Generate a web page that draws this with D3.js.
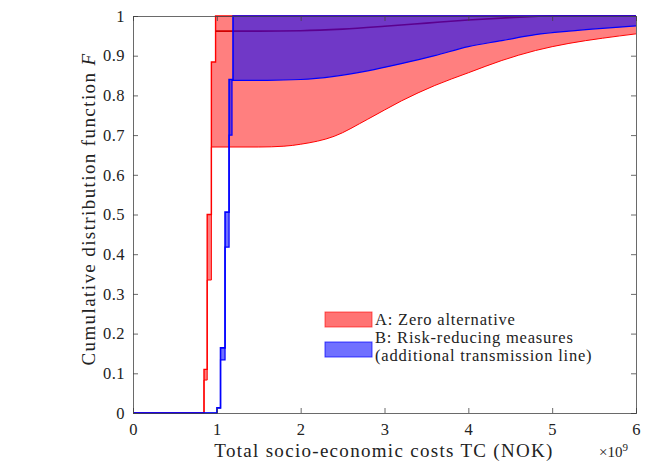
<!DOCTYPE html>
<html>
<head>
<meta charset="utf-8">
<script src="https://cdn.jsdelivr.net/npm/d3@7"></script>
<style>
  body { margin: 0; background: #fff; }
  svg text { font-family: "Liberation Serif", "DejaVu Serif", serif; fill: #222; }
</style>
</head>
<body>
<svg id="chart" width="646" height="464"></svg>
<script>
// Axis ticks
const xTicks = [0, 1, 2, 3, 4, 5, 6];
const yTicks = [0, 0.1, 0.2, 0.3, 0.4, 0.5, 0.6, 0.7, 0.8, 0.9, 1];
const yTickLabels = ["0", "0.1", "0.2", "0.3", "0.4", "0.5", "0.6", "0.7", "0.8", "0.9", "1"];

// A: Zero alternative (costs in 1e9 NOK), upper CDF bound, steps
const aUpperX = [0, 0.847, 0.885, 0.935, 0.985, 6];
const aUpperF = [0, 0.110, 0.500, 0.884, 1.000, 1.000];
// A lower CDF bound: steps, then smooth tail
const aLowerX = [0, 0.847, 0.885, 0.935];
const aLowerF = [0, 0.083, 0.335, 0.670];
const aTailX = [0.935, 1.5, 1.8, 2.0, 2.4, 2.8, 3.2, 3.6, 4.0, 4.4, 4.8, 5.2, 5.6, 6.0];
const aTailF = [0.670, 0.670, 0.672, 0.677, 0.697, 0.740, 0.786, 0.825, 0.857, 0.888, 0.913, 0.931, 0.944, 0.955];
// A inner curve
const aMidX = [0.985, 1.5, 2.0, 2.5, 3.0, 3.5, 4.0, 4.5, 5.0, 6.0];
const aMidF = [0.962, 0.962, 0.963, 0.967, 0.974, 0.982, 0.990, 0.996, 1.000, 1.000];

// B: Risk-reducing measures, upper CDF bound
const bUpperX = [0, 1.002, 1.044, 1.098, 1.146, 1.193, 6];
const bUpperF = [0, 0.013, 0.164, 0.506, 0.840, 1.000, 1.000];
// B lower CDF bound
const bLowerX = [0, 1.002, 1.044, 1.098, 1.146, 1.181];
const bLowerF = [0, 0.013, 0.134, 0.418, 0.700, 0.838];
const bTailX = [1.181, 1.6, 2.0, 2.4, 2.8, 3.2, 3.6, 4.0, 4.4, 4.8, 5.2, 5.6, 6.0];
const bTailF = [0.838, 0.838, 0.840, 0.848, 0.862, 0.880, 0.900, 0.923, 0.938, 0.953, 0.962, 0.969, 0.975];

const legendLabels = ["A: Zero alternative", "B: Risk-reducing measures", "(additional transmission line)"];

const serif = "'Liberation Serif', 'DejaVu Serif', serif";
const svg = d3.select("#chart");
const x = d3.scaleLinear().domain([0, 6]).range([133, 636]);
const y = d3.scaleLinear().domain([0, 1]).range([413, 16]);

const red = "#ff0000", blue = "#0000ff";

// step function -> vertex list
function stepPts(xs, fs) {
  const pts = [];
  xs.forEach((v, i) => {
    if (i > 0) pts.push([v, fs[i - 1]]);
    pts.push([v, fs[i]]);
  });
  return pts;
}
const lin = d3.line().x(d => x(d[0])).y(d => y(d[1]));
const smooth = d3.line().x(d => x(d[0])).y(d => y(d[1])).curve(d3.curveMonotoneX);
const zip = (xs, fs) => xs.map((v, i) => [v, fs[i]]);

function lowerPath(xs, fs, tx, tf) {
  return lin(stepPts(xs, fs)) + smooth(zip(tx, tf)).replace(/^M/, "L");
}
function bandPath(lx, lf, tx, tf, ux, uf) {
  const up = stepPts(ux, uf).reverse();
  return lowerPath(lx, lf, tx, tf) + lin(up).replace(/^M/, "L") + "Z";
}

// A
svg.append("path")
  .attr("d", bandPath(aLowerX, aLowerF, aTailX, aTailF, aUpperX, aUpperF))
  .attr("fill", red).attr("fill-opacity", 0.5).attr("stroke", "none");
svg.append("path").attr("d", lin(stepPts(aUpperX, aUpperF)))
  .attr("fill", "none").attr("stroke", red).attr("stroke-width", 1.4);
svg.append("path").attr("d", lowerPath(aLowerX, aLowerF, aTailX, aTailF))
  .attr("fill", "none").attr("stroke", red).attr("stroke-width", 1);
svg.append("path").attr("d", smooth(zip(aMidX, aMidF)))
  .attr("fill", "none").attr("stroke", "#d00000").attr("stroke-width", 1.6);

// B
svg.append("path")
  .attr("d", bandPath(bLowerX, bLowerF, bTailX, bTailF, bUpperX, bUpperF))
  .attr("fill", blue).attr("fill-opacity", 0.56).attr("stroke", "none");
svg.append("path").attr("d", lin(stepPts(bUpperX, bUpperF)))
  .attr("fill", "none").attr("stroke", blue).attr("stroke-width", 1.6);
svg.append("path").attr("d", lowerPath(bLowerX, bLowerF, bTailX, bTailF))
  .attr("fill", "none").attr("stroke", blue).attr("stroke-width", 1.2);

// axes (ticks inside)
svg.append("g").attr("transform", "translate(0,413)")
  .call(d3.axisBottom(x).tickValues(xTicks).tickSize(-5).tickPadding(10).tickFormat(d3.format("d")));
svg.append("g").attr("transform", "translate(133,0)")
  .call(d3.axisLeft(y).tickValues(yTicks).tickSize(-5).tickPadding(8).tickFormat((d, i) => yTickLabels[i]));
svg.append("g").attr("transform", "translate(0,16)")
  .call(d3.axisTop(x).tickValues(xTicks).tickSize(-5).tickFormat(""));
svg.append("g").attr("transform", "translate(636,0)")
  .call(d3.axisRight(y).tickValues(yTicks).tickSize(-5).tickFormat(""));
svg.selectAll("g").attr("font-family", serif);
svg.selectAll(".domain").attr("stroke", "#444").attr("stroke-width", 0.8);
svg.selectAll(".tick line").attr("stroke", "#444").attr("stroke-width", 0.8);
svg.selectAll(".tick text").attr("font-family", serif).attr("font-size", 16.5)
  .attr("letter-spacing", 0.5).attr("fill", "#222");

// axis labels
svg.append("text").attr("x", 384).attr("y", 457).attr("text-anchor", "middle")
  .attr("font-family", serif).attr("font-size", 19).attr("letter-spacing", 1.3)
  .text("Total socio-economic costs TC (NOK)");
const yl = svg.append("text").attr("transform", "translate(95,209) rotate(-90)")
  .attr("text-anchor", "middle").attr("font-family", serif).attr("font-size", 19)
  .attr("letter-spacing", 1.4);
yl.append("tspan").text("Cumulative distribution function ");
yl.append("tspan").attr("font-style", "italic").text("F");
const ex = svg.append("text").attr("x", 599).attr("y", 457).attr("font-family", serif).attr("font-size", 15);
ex.append("tspan").text("\u00d710");
ex.append("tspan").attr("dy", -6).attr("font-size", 11).text("9");

// legend
const lg = svg.append("g");
lg.append("rect").attr("x", 325).attr("y", 312).attr("width", 47).attr("height", 15)
  .attr("fill", red).attr("fill-opacity", 0.55).attr("stroke", red).attr("stroke-opacity", 0.6);
lg.append("rect").attr("x", 325).attr("y", 342).attr("width", 47).attr("height", 15)
  .attr("fill", blue).attr("fill-opacity", 0.56).attr("stroke", blue).attr("stroke-opacity", 0.7);
lg.selectAll("text.lab").data(legendLabels).enter().append("text")
  .attr("class", "lab").attr("x", 375).attr("y", (d, i) => [325, 343, 361][i])
  .attr("font-family", serif).attr("font-size", 16.5).attr("letter-spacing", 0.8).text(d => d);
</script>
</body>
</html>
